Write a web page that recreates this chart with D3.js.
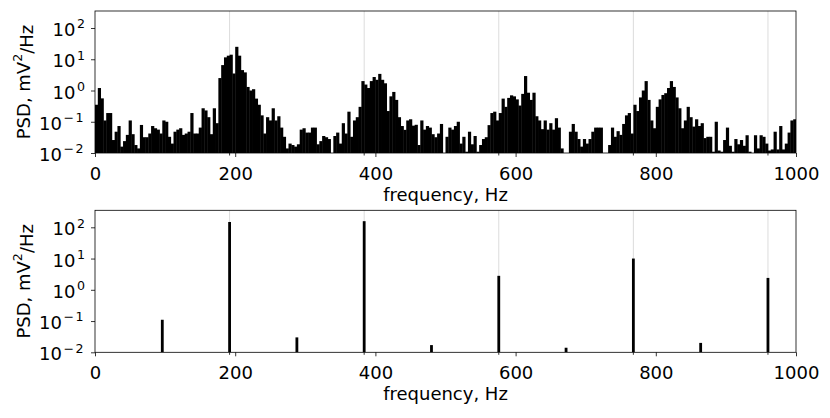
<!DOCTYPE html>
<html>
<head>
<meta charset="utf-8">
<script src="https://cdn.jsdelivr.net/npm/d3@7"></script>
<style>
  body { margin: 0; background: #fff; }
  svg { display: block; font-family: "DejaVu Sans", sans-serif; }
</style>
</head>
<body>
<svg id="chart" width="830" height="418"></svg>
<script>
// spectrum of the noisy signal, 4 Hz bins starting at 0 Hz
const binWidth = 4;
const noisyPsd = [
  0.35, 1.2, 0.56, 0.11, 0.19, 0.19, 0.026, 0.048, 0.073, 0.016, 0.024, 0.038,
  0.11, 0.04, 0.018, 0.014, 0.079, 0.032, 0.032, 0.042, 0.073, 0.062, 0.056, 0.042,
  0.11, 0.1, 0.033, 0.02, 0.048, 0.056, 0.062, 0.038, 0.042, 0.048, 0.19, 0.042,
  0.042, 0.065, 0.27, 0.23, 0.14, 0.04, 0.27, 0.09, 2.5, 6.5, 11.5, 13,
  14, 3.5, 25, 13, 4.5, 3.8, 1.3, 1.0, 1.1, 0.55, 0.35, 0.16,
  0.042, 0.14, 0.11, 0.27, 0.11, 0.15, 0.065, 0.033, 0.014, 0.02, 0.018, 0.016,
  0.019, 0.056, 0.062, 0.045, 0.045, 0.065, 0.065, 0.019, 0.024, 0.035, 0.032, 0.028,
  0.01, 0.035, 0.045, 0.02, 0.09, 0.042, 0.21, 0.033, 0.11, 0.14, 0.3, 2.0,
  1.55, 1.2, 2.0, 2.7, 2.2, 3.4, 2.2, 1.7, 0.22, 0.65, 0.9, 0.5,
  0.14, 0.073, 0.055, 0.11, 0.12, 0.075, 0.08, 0.018, 0.11, 0.056, 0.073, 0.065,
  0.04, 0.032, 0.042, 0.085, 0.01, 0.033, 0.065, 0.056, 0.073, 0.1, 0.02, 0.033,
  0.011, 0.048, 0.019, 0.035, 0.011, 0.018, 0.028, 0.032, 0.078, 0.19, 0.21, 0.11,
  0.19, 0.55, 0.3, 0.58, 0.7, 0.65, 0.52, 0.33, 0.78, 2.9, 0.85, 0.5,
  0.85, 0.15, 0.11, 0.058, 0.11, 0.056, 0.09, 0.056, 0.13, 0.065, 0.014, 0.01,
  0.01, 0.048, 0.085, 0.048, 0.028, 0.016, 0.028, 0.02, 0.028, 0.048, 0.065, 0.065,
  0.065, 0.01, 0.01, 0.018, 0.065, 0.033, 0.05, 0.038, 0.085, 0.16, 0.19, 0.042,
  0.35, 0.22, 0.6, 1.0, 2.0, 0.5, 0.11, 0.062, 0.3, 0.52, 0.72, 0.82,
  1.2, 2.0, 1.3, 0.6, 0.27, 0.062, 0.11, 0.3, 0.14, 0.07, 0.12, 0.073,
  0.09, 0.03, 0.033, 0.033, 0.011, 0.1, 0.012, 0.011, 0.026, 0.065, 0.017, 0.011,
  0.028, 0.019, 0.026, 0.017, 0.037, 0.011, 0.01, 0.037, 0.014, 0.037, 0.033, 0.02,
  0.012, 0.013, 0.048, 0.013, 0.073, 0.013, 0.02, 0.045, 0.11, 0.12
];

// spectrum of the clean signal: lines at multiples of 96 Hz
const lineFreqs = [96, 192, 288, 384, 480, 576, 672, 768, 864, 960];
const linePsd = [0.11, 148, 0.03, 157, 0.017, 2.8, 0.014, 10, 0.02, 2.4];
const lineWidth = 4;

// harmonics of the 192 Hz fundamental, shown as grid lines
const harmonics = [192, 384, 576, 768, 960];

const xTicks = [0, 200, 400, 600, 800, 1000];
const yTicks = [1e-2, 1e-1, 1e0, 1e1, 1e2];

const svg = d3.select('#chart');
const left = 95, plotW = 701, plotH = 142;
const panelTops = [11, 210.3];
const fontSize = '18px', supSize = '12.6px';

const x = d3.scaleLinear().domain([0, 1000]).range([0, plotW]);

function supTick(sel) {
  sel.selectAll('.tick text').each(function(d) {
    const t = d3.select(this);
    const e = Math.round(Math.log10(d));
    t.text(null);
    t.append('tspan').text('10');
    t.append('tspan')
      .attr('dx', '1.5')
      .attr('dy', '-0.62em')
      .attr('font-size', supSize)
      .attr('letter-spacing', e < 0 ? '1.5px' : null)
      .text(e < 0 ? '\u2212' + (-e) : String(e));
  });
}

function panel(top, id, drawMarks) {
  const g = svg.append('g').attr('transform', 'translate(' + left + ',' + top + ')');
  const y = d3.scaleLog().domain([1e-2, 350]).range([plotH, 0]);

  g.append('clipPath').attr('id', id)
    .append('rect').attr('width', plotW).attr('height', plotH);

  // grid at harmonics
  g.append('g').selectAll('line').data(harmonics).join('line')
    .attr('x1', d => x(d)).attr('x2', d => x(d))
    .attr('y1', 0).attr('y2', plotH)
    .attr('stroke', '#dcdcdc').attr('stroke-width', 1);

  drawMarks(g.append('g').attr('clip-path', 'url(#' + id + ')'), y);

  // minor ticks at harmonics
  g.append('g').selectAll('line').data(harmonics).join('line')
    .attr('x1', d => x(d)).attr('x2', d => x(d))
    .attr('y1', plotH).attr('y2', plotH + 2.5)
    .attr('stroke', '#000').attr('stroke-width', 0.8);

  const xa = g.append('g').attr('transform', 'translate(0,' + plotH + ')')
    .call(d3.axisBottom(x).tickValues(xTicks).tickFormat(d3.format('d')).tickSize(4).tickPadding(3));
  const ya = g.append('g')
    .call(d3.axisLeft(y).tickValues(yTicks).tickSize(4).tickPadding(6))
    .call(supTick);
  [xa, ya].forEach(a => {
    a.select('.domain').remove();
    a.selectAll('.tick line').attr('stroke-width', 0.8);
    a.selectAll('.tick text').attr('font-size', fontSize).attr('fill', '#000')
      .attr('font-family', '"DejaVu Sans", sans-serif');
  });
  xa.selectAll('.tick text').attr('dy', '20px');
  ya.selectAll('.tick text').attr('dy', '0.42em');

  g.append('rect').attr('width', plotW).attr('height', plotH)
    .attr('fill', 'none').attr('stroke', '#000').attr('stroke-width', 0.8);

  g.append('text')
    .attr('x', plotW / 2).attr('y', plotH + 48)
    .attr('text-anchor', 'middle').attr('font-size', fontSize)
    .text('frequency, Hz');

  g.append('text')
    .attr('transform', 'translate(' + (-65) + ',' + (plotH / 2) + ') rotate(-90)')
    .attr('text-anchor', 'middle').attr('font-size', fontSize)
    .html('PSD, mV<tspan dy="-0.62em" font-size="' + supSize + '">2</tspan><tspan dy="0.62em">/Hz</tspan>');
}

panel(panelTops[0], 'clipTop', function(g, y) {
  g.selectAll('rect').data(noisyPsd).join('rect')
    .attr('x', (d, i) => x(i * binWidth))
    .attr('width', x(binWidth) - x(0) + 0.4)
    .attr('y', d => y(Math.max(d, 1e-2)))
    .attr('height', d => plotH - y(Math.max(d, 1e-2)))
    .attr('fill', '#000');
});

panel(panelTops[1], 'clipBottom', function(g, y) {
  g.selectAll('rect').data(linePsd).join('rect')
    .attr('x', (d, i) => x(lineFreqs[i] - lineWidth / 2))
    .attr('width', x(lineWidth) - x(0))
    .attr('y', d => y(d))
    .attr('height', d => plotH - y(d))
    .attr('fill', '#000');
});
</script>
</body>
</html>
